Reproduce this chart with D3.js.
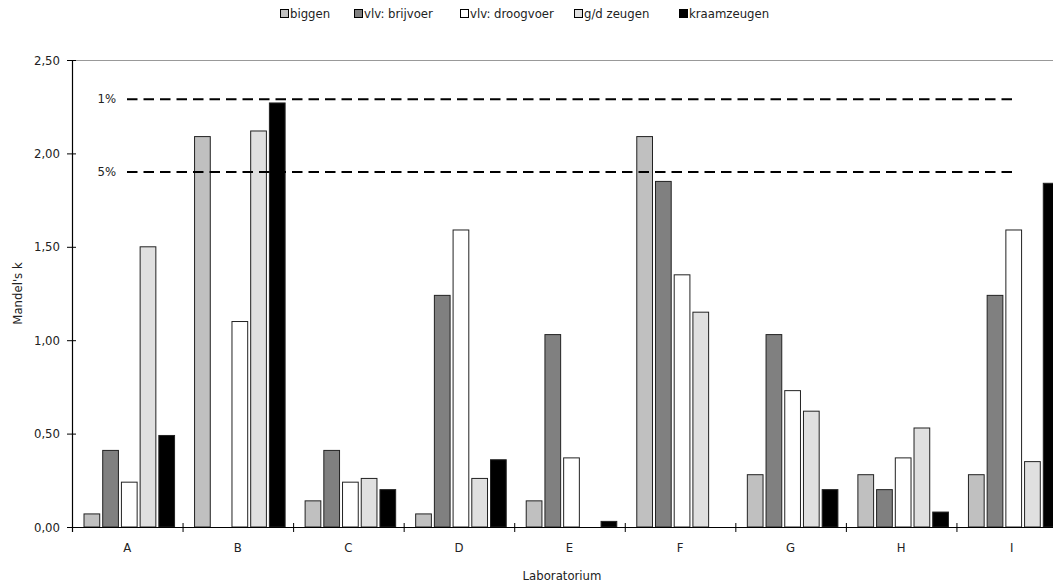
<!DOCTYPE html>
<html><head><meta charset="utf-8">
<script src="https://cdn.jsdelivr.net/npm/d3@7/dist/d3.min.js"></script>
<style>
body{margin:0;background:#fff;}
text{font-family:"Liberation Sans Narrow","Arial Narrow","DejaVu Sans Condensed",sans-serif;fill:#222;}
</style></head>
<body><svg id="c" width="1053" height="582"></svg>
<script>
const categories = ["A","B","C","D","E","F","G","H","I"];
const seriesNames = ["biggen","vlv: brijvoer","vlv: droogvoer","g/d zeugen","kraamzeugen"];
const biggen      = [0.07, 2.09, 0.14, 0.07, 0.14, 2.09, 0.28, 0.28, 0.28];
const brijvoer    = [0.41, 0.00, 0.41, 1.24, 1.03, 1.85, 1.03, 0.20, 1.24];
const droogvoer   = [0.24, 1.10, 0.24, 1.59, 0.37, 1.35, 0.73, 0.37, 1.59];
const gdZeugen    = [1.50, 2.12, 0.26, 0.26, 0.00, 1.15, 0.62, 0.53, 0.35];
const kraamzeugen = [0.49, 2.27, 0.20, 0.36, 0.03, 0.00, 0.20, 0.08, 1.84];
const yTicks = [0, 0.5, 1.0, 1.5, 2.0, 2.5];
const limitNames = ["1%","5%"];
const limitValues = [2.29, 1.90];
const colors = ["#c0c0c0","#808080","#ffffff","#e0e0e0","#000000"];

(function(){
const series = [biggen, brijvoer, droogvoer, gdZeugen, kraamzeugen];
const svg = d3.select("#c");
const pL = 72, pT = 60, pB = 527, pR = 1067;
const fs = 13;

const x = d3.scaleBand().domain(categories).range([pL, pR]).paddingInner(0).paddingOuter(0);
const xs = d3.scaleBand().domain(d3.range(5)).range([12, x.bandwidth()-8]).paddingInner(0.16).paddingOuter(0);
const y = d3.scaleLinear().domain([0, 2.5]).range([pB, pT]);
const fmt = v => d3.format(".2f")(v).replace(".", ",");

svg.append("line").attr("x1", pL).attr("x2", 1053).attr("y1", pT+0.5).attr("y2", pT+0.5)
  .attr("stroke", "#999").attr("stroke-width", 1);

categories.forEach((c, i) => {
  series.forEach((s, j) => {
    const v = s[i];
    if (v <= 0) return;
    svg.append("rect")
      .attr("x", x(c) + xs(j)).attr("width", xs.bandwidth())
      .attr("y", y(v)).attr("height", y(0) - y(v))
      .attr("fill", colors[j]).attr("stroke", "#222").attr("stroke-width", 1);
  });
});

limitValues.forEach((v, i) => {
  svg.append("line").attr("x1", 127).attr("x2", 1012).attr("y1", y(v)).attr("y2", y(v))
    .attr("stroke", "#000").attr("stroke-width", 2).attr("stroke-dasharray", "10.5,6");
  svg.append("text").attr("x", 116).attr("y", y(v)).attr("dy", "0.32em")
    .attr("text-anchor", "end").attr("font-size", fs).text(limitNames[i]);
});

const yAxis = d3.axisLeft(y).tickValues(yTicks).tickFormat(fmt).tickSizeInner(0).tickSizeOuter(0).tickPadding(12);
const gy = svg.append("g").attr("transform", `translate(${pL},0)`).call(yAxis);
gy.select(".domain").remove();
gy.attr("font-family", null).attr("font-size", null);
gy.selectAll(".tick text").attr("font-size", fs);
gy.selectAll(".tick").append("line").attr("x1", -5).attr("x2", 4).attr("stroke", "#000");
svg.append("line").attr("x1", pL+0.5).attr("x2", pL+0.5).attr("y1", pT).attr("y2", pB+5).attr("stroke", "#000").attr("stroke-width", 1.2);

const xAxis = d3.axisBottom(x).tickSize(0).tickPadding(16);
const gx = svg.append("g").attr("transform", `translate(0,${pB})`).call(xAxis);
gx.select(".domain").remove();
gx.attr("font-family", null).attr("font-size", null);
gx.selectAll(".tick text").attr("font-size", fs);
svg.append("line").attr("x1", pL).attr("x2", 1053).attr("y1", pB+0.5).attr("y2", pB+0.5).attr("stroke", "#000").attr("stroke-width", 1.2);
categories.slice(1).forEach(c => {
  svg.append("line").attr("x1", x(c)+0.5).attr("x2", x(c)+0.5).attr("y1", pB-4).attr("y2", pB+5).attr("stroke", "#000");
});

svg.append("text").attr("x", 562).attr("y", 580).attr("text-anchor", "middle").attr("font-size", fs).text("Laboratorium");
svg.append("text").attr("transform", `translate(22,${(pT+pB)/2}) rotate(-90)`).attr("text-anchor", "middle").attr("font-size", fs).text("Mandel's k");

const legendX = [280, 354, 460, 574, 679];
seriesNames.forEach((n, j) => {
  const g = svg.append("g").attr("transform", `translate(${legendX[j]},9)`);
  g.append("rect").attr("x", 0.5).attr("y", 0.5).attr("width", 8).attr("height", 8)
    .attr("fill", colors[j]).attr("stroke", "#000").attr("stroke-width", 1);
  g.append("text").attr("x", 10).attr("y", 4.5).attr("dy", "0.35em").attr("font-size", fs).text(n);
});
})();
</script></body></html>
